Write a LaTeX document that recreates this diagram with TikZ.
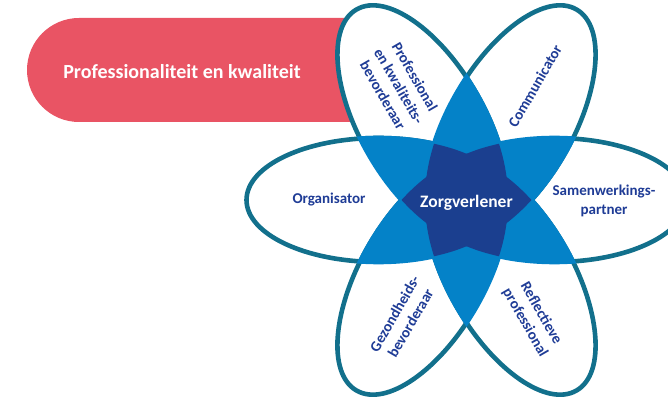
\documentclass[tikz,border=0pt]{standalone}
\usepackage{fontspec}
\setmainfont{Carlito}
\definecolor{petalline}{HTML}{12708C}
\definecolor{lensblue}{HTML}{0482C8}
\definecolor{coreblue}{HTML}{1B3F8F}
\definecolor{labelblue}{HTML}{1F3C96}
\definecolor{themered}{HTML}{E95464}
\newcommand\petd{88}
\newcommand\peta{132}
\newcommand\petb{62}
\tikzset{
  role/.style={text=labelblue, font=\bfseries\fontsize{15}{18.5}\selectfont, align=center, inner sep=0pt},
  petal/.style={petalline, line width=4.6pt, fill=white}
}
\begin{document}
\begin{tikzpicture}[x=1pt,y=1pt]
  \useasboundingbox (0,0) rectangle (668,396);
  \clip (0,0) rectangle (668,396);

  \fill[themered] (79,378) arc[start angle=90, end angle=270, radius=52] -- (400,274) -- (400,378) -- cycle;
  \node[text=white, font=\bfseries\fontsize{20}{24}\selectfont] (theme) at (182,324) {Professionaliteit en kwaliteit};

  \begin{scope}[shift={(466.5,196)}]
    \foreach \a in {0,60,...,300}
      \draw[petal, rotate=\a] (\petd,0) ellipse [x radius=\peta, y radius=\petb];
    % two petals overlap
    \foreach \i in {0,...,4}{
      \pgfmathtruncatemacro\inext{\i+1}
      \foreach \j in {\inext,...,5}{
        \begin{scope}
          \clip[rotate=60*\i] (\petd,0) ellipse [x radius=\peta+2.3, y radius=\petb+2.3];
          \fill[lensblue, rotate=60*\j] (\petd,0) ellipse [x radius=\peta+2.3, y radius=\petb+2.3];
        \end{scope}
      }
    }
    % three petals overlap
    \foreach \i in {0,...,3}{
      \pgfmathtruncatemacro\inext{\i+1}
      \foreach \j in {\inext,...,4}{
        \pgfmathtruncatemacro\jnext{\j+1}
        \foreach \k in {\jnext,...,5}{
          \begin{scope}
            \clip[rotate=60*\i] (\petd,0) ellipse [x radius=\peta, y radius=\petb];
            \clip[rotate=60*\j] (\petd,0) ellipse [x radius=\peta, y radius=\petb];
            \fill[coreblue, rotate=60*\k] (\petd,0) ellipse [x radius=\peta, y radius=\petb];
          \end{scope}
        }
      }
    }
  \end{scope}

  \node[text=white, font=\bfseries\fontsize{17.5}{21}\selectfont, inner sep=0pt] (core) at (466.5,193) {Zorgverlener};
  \node[role] (organisator) at (329,196) {Organisator};
  \node[role] (partner) at (604,195) {Samenwerkings-\\partner};
  \node[role, rotate=-60] (kwaliteit) at (399,310) {Professional\\en kwaliteits-\\bevorderaar};
  \node[role, rotate=60] (communicator) at (535,310) {Communicator};
  \node[role, rotate=60] (gezondheid) at (402.5,77.5) {Gezondheids-\\bevorderaar};
  \node[role, rotate=-60] (reflectie) at (533,78) {Reflectieve\\professional};
\end{tikzpicture}
\end{document}
